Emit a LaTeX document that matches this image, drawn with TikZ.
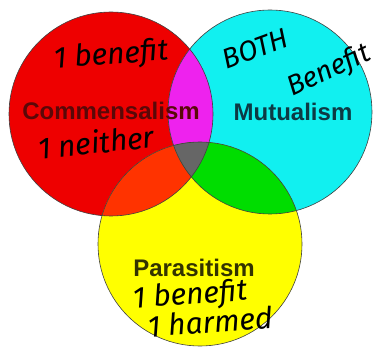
\documentclass[tikz,border=0pt]{standalone}
\usepackage{fontspec}
\setmainfont{Liberation Sans}
\newfontfamily\handfont{Fira Sans}
\usetikzlibrary{positioning}
\definecolor{commred}{HTML}{EE0000}
\definecolor{mutcyan}{HTML}{11F0F0}
\definecolor{paryellow}{HTML}{FFFF00}
\definecolor{redcyan}{HTML}{EE22EE}
\definecolor{redyellow}{HTML}{FF3300}
\definecolor{cyanyellow}{HTML}{00DD00}
\definecolor{allthree}{HTML}{666666}
\definecolor{commink}{HTML}{5A0808}
\definecolor{mutink}{HTML}{0C3A44}
\definecolor{parink}{HTML}{333300}

\begin{document}
\begin{tikzpicture}[x=1pt,y=-1pt,
  ring/.style={draw=black!75,line width=0.6pt},
  kind/.style={font=\fontsize{24}{28}\selectfont\bfseries},
  scrawl/.style={font=\handfont\itshape\fontsize{30}{34}\selectfont,text=black,inner sep=0pt}]
\useasboundingbox[fill=white] (0,0) rectangle (377,347);
\coordinate (comm) at (111,114);
\coordinate (mut) at (270,112);
\coordinate (par) at (200,244);
\def\rr{102pt}
% the three sets
\fill[commred] (comm) circle (\rr);
\fill[mutcyan] (mut) circle (\rr);
\fill[paryellow] (par) circle (\rr);
% two by two
\begin{scope}
  \clip (comm) circle (\rr);
  \fill[redcyan] (mut) circle (\rr);
  \fill[redyellow] (par) circle (\rr);
\end{scope}
\begin{scope}
  \clip (mut) circle (\rr);
  \fill[cyanyellow] (par) circle (\rr);
\end{scope}
\begin{scope}
  \clip (comm) circle (\rr);
  \clip (mut) circle (\rr);
  \fill[allthree] (par) circle (\rr);
\end{scope}
\foreach \c in {comm,mut,par}
  \draw[ring] (\c) circle (\rr);
% names
\node[kind,text=commink] (commlbl) at (111,111) {Commensalism};
\node[kind,text=mutink] (mutlbl) at (293,112) {Mutualism};
\node[kind,text=parink] (parlbl) at (194,268) {Parasitism};
% notes by hand
\node[scrawl,rotate=4] (commnote) at (111,56) {1 benefit};
\node[scrawl,rotate=6] (neithernote) at (96,142) {1 neither};
\node[scrawl,rotate=20,font=\handfont\itshape\fontsize{28}{32}\selectfont] (bothnote) at (255,49) {BOTH};
\node[scrawl,rotate=25,font=\handfont\itshape\fontsize{28}{32}\selectfont] (mutnote) at (329,71) {Benefit};
\node[scrawl,rotate=4] (parnote) at (190,296) {1 benefit};
\node[scrawl,rotate=4] (harmnote) at (210,322) {1 harmed};
\end{tikzpicture}
\end{document}
